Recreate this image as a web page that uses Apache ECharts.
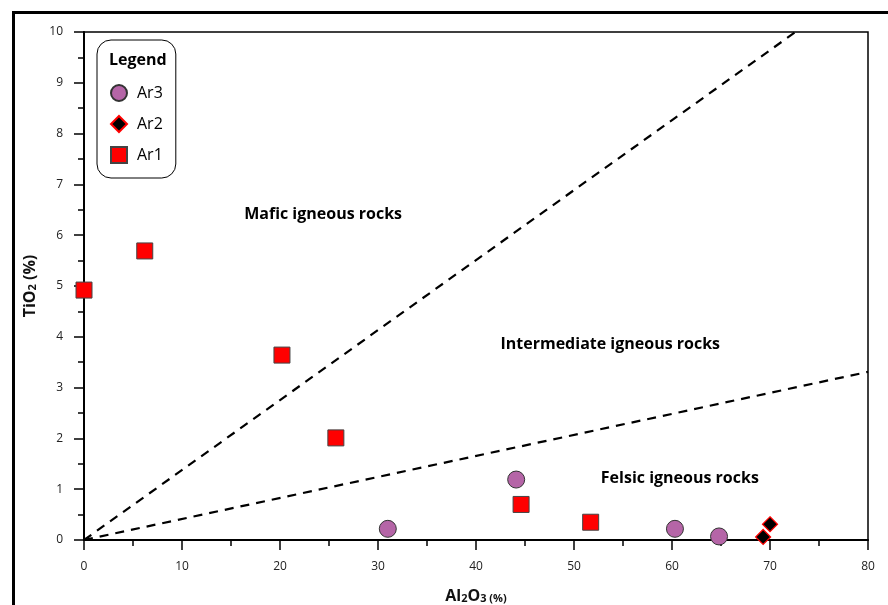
<!DOCTYPE html>
<html>
<head>
<meta charset="utf-8">
<script src="https://cdn.jsdelivr.net/npm/echarts@6/dist/echarts.min.js"></script>
<style>html,body{margin:0;padding:0;background:#fff;}#c{width:888px;height:605px;}</style>
</head>
<body>
<div id="c"></div>
<script>
// Data (Al2O3 %, TiO2 %)
const ar3 = [[31.0, 0.22], [44.1, 1.19], [60.3, 0.22], [64.8, 0.07]];
const ar2 = [[69.3, 0.06], [70.0, 0.31]];
const ar1 = [[0.0, 4.92], [6.2, 5.69], [20.2, 3.64], [25.7, 2.01], [44.6, 0.70], [51.7, 0.35]];
const maficBoundary = [[0, 0], [72.6, 10]];
const felsicBoundary = [[0, 0], [80, 3.31]];
const regionNames = ['Mafic igneous rocks', 'Intermediate igneous rocks', 'Felsic igneous rocks'];
const regionAnchors = [[24.4, 6.40], [53.7, 3.84], [60.8, 1.22]];
const xTicks = [0, 10, 20, 30, 40, 50, 60, 70, 80];
const yTicks = [0, 1, 2, 3, 4, 5, 6, 7, 8, 9, 10];

const FONT = '"Open Sans", "Noto Sans", sans-serif';
const chart = echarts.init(document.getElementById('c'), null, {renderer: 'canvas'});

const dashLine = (name, data) => ({
  name: name, type: 'line', data: data, symbol: 'none', silent: true,
  lineStyle: {color: '#000', width: 2.2, type: [9, 7]}, z: 2
});

const nameRich = {
  b: {fontSize: 16, fontWeight: 'bold', fontFamily: FONT, color: '#111', verticalAlign: 'bottom', lineHeight: 22},
  s: {fontSize: 11, fontWeight: 'bold', fontFamily: FONT, color: '#111', verticalAlign: 'bottom', lineHeight: 10},
  p: {fontSize: 11, fontWeight: 'bold', fontFamily: FONT, color: '#111', verticalAlign: 'bottom', lineHeight: 17}
};
const nameRichY = Object.assign({}, nameRich, {
  p: {fontSize: 16, fontWeight: 'bold', fontFamily: FONT, color: '#111', verticalAlign: 'bottom', lineHeight: 22}
});

chart.setOption({
  animation: false,
  backgroundColor: '#fff',
  grid: {left: 84, right: 20, top: 32, bottom: 65, outerBoundsMode: 'none', containLabel: false,
         show: true, borderColor: '#000', borderWidth: 1.5, backgroundColor: 'transparent'},
  xAxis: {
    type: 'value', min: xTicks[0], max: xTicks[xTicks.length - 1], interval: 10,
    axisLine: {show: true, onZero: false, lineStyle: {color: '#000', width: 2}},
    axisTick: {show: true, length: 10, lineStyle: {color: '#000', width: 1.5}},
    minorTick: {show: true, splitNumber: 2, length: 6, lineStyle: {color: '#000', width: 1.5}},
    splitLine: {show: false},
    axisLabel: {color: '#222', fontSize: 12, fontFamily: FONT, margin: 21},
    name: '{b|Al}{s|2}{b|O}{s|3}{p| (%)}', nameLocation: 'middle', nameGap: 42,
    nameTextStyle: {rich: nameRich}
  },
  yAxis: {
    type: 'value', min: yTicks[0], max: yTicks[yTicks.length - 1], interval: 1,
    axisLine: {show: true, onZero: false, lineStyle: {color: '#000', width: 2}},
    axisTick: {show: true, length: 10, lineStyle: {color: '#000', width: 1.5}},
    minorTick: {show: true, splitNumber: 2, length: 6, lineStyle: {color: '#000', width: 1.5}},
    splitLine: {show: false},
    axisLabel: {color: '#222', fontSize: 12, fontFamily: FONT, margin: 21},
    name: '{b|TiO}{s|2}{p| (%)}', nameLocation: 'middle', nameGap: 44, nameRotate: 90,
    nameTextStyle: {rich: nameRichY}
  },
  legend: {
    data: ['Ar3', 'Ar2', 'Ar1'],
    orient: 'vertical', left: 97, top: 40,
    padding: [44, 13, 14, 13],
    itemWidth: 16, itemHeight: 16, itemGap: 13,
    backgroundColor: '#fff', borderColor: '#000', borderWidth: 1, borderRadius: 14,
    textStyle: {fontSize: 16, fontFamily: FONT, color: '#000', lineHeight: 16, padding: [0, 0, 0, 5]}
  },
  graphic: [
    {type: 'rect', left: 11, top: 10, z: 100, silent: true,
     shape: {x: 0, y: 0, width: 920, height: 700},
     style: {fill: 'none', stroke: '#000', lineWidth: 3}},
    {type: 'text', left: 109, top: 52, z: 100, silent: true,
     style: {text: 'Legend', font: 'bold 16px ' + FONT, fill: '#000'}}
  ],
  series: [
    dashLine('mafic', maficBoundary),
    dashLine('felsic', felsicBoundary),
    {
      name: 'regions', type: 'scatter', symbolSize: 1, silent: true,
      itemStyle: {opacity: 1, color: 'transparent'},
      data: regionAnchors.map((p, i) => ({value: p, name: regionNames[i]})),
      label: {show: true, position: 'inside', formatter: '{b}', fontSize: 16, fontWeight: 'bold', fontFamily: FONT,
              color: '#000', opacity: 1, textBorderWidth: 0, textBorderColor: 'transparent'}
    },
    {
      name: 'Ar3', type: 'scatter', data: ar3, symbol: 'circle', symbolSize: 17, z: 5,
      itemStyle: {color: '#b565a7', borderColor: '#333', borderWidth: 1, opacity: 1}
    },
    {
      name: 'Ar2', type: 'scatter', data: ar2, symbol: 'diamond', symbolSize: 15, z: 5,
      itemStyle: {color: '#000', borderColor: '#ff0000', borderWidth: 1.2, opacity: 1}
    },
    {
      name: 'Ar1', type: 'scatter', data: ar1, symbol: 'rect', symbolSize: 16, z: 5,
      itemStyle: {color: '#ff0000', borderColor: '#444', borderWidth: 1, opacity: 1}
    }
  ]
});
</script>
</body>
</html>
